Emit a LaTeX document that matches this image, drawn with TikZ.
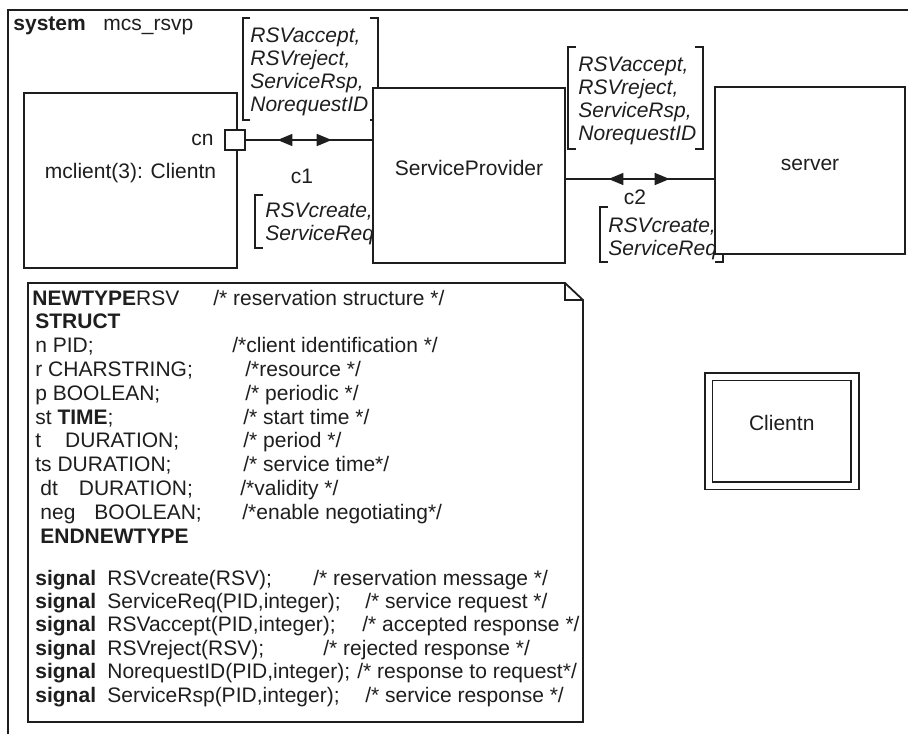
\documentclass[tikz,border=0pt]{standalone}
\usepackage{fontspec}
\setmainfont{Liberation Sans}
\usetikzlibrary{arrows.meta, fit, decorations.markings}
\definecolor{ink}{HTML}{1E1E1E}
\definecolor{paper}{HTML}{FFFFFF}

\begin{document}
\begin{tikzpicture}[x=0.5pt, y=-0.5pt,
  tri/.tip={Triangle[length=7.5pt, width=6pt]},
  every node/.style={font=\fontsize{10.5}{12}\selectfont, text=ink},
  blk/.style={draw=ink, line width=0.9pt, fill=paper, inner sep=0pt},
  brk/.style={draw=ink, line width=0.6pt},
  sig/.style={anchor=base west, inner sep=0pt, font=\fontsize{10.5}{12}\selectfont\itshape},
  code/.style={anchor=base west, inner sep=0pt},
  kw/.style={code, font=\fontsize{10.5}{12}\selectfont\bfseries},
  chan/.style 2 args={draw=ink, line width=0.8pt, decoration={markings,
      mark=at position #1 with {\arrowreversed{tri}},
      mark=at position #2 with {\arrow{tri}}}, postaction={decorate}}]

\useasboundingbox (0,0) rectangle (908,734);
\fill[paper] (0,0) rectangle (908,734);

% System frame
\draw[ink, line width=1pt] (8,734) -- (8,10) -- (908,10);
\node[kw] (syskw) at (13,30) {system};
\node[code] (sysname) at (103,30) {mcs\_rsvp};

% Signal lists of c1
\draw[brk] (250,18) -| (243,120) -- (250,120);
\draw[brk] (370,18) -| (378,120) -- (370,120);
\foreach \s [count=\i from 0] in {{RSVaccept,},{RSVreject,},{ServiceRsp,},{NorequestID}}
  \node[sig] (upa\i) at (250,42+23.3*\i) {\s};
\draw[brk] (263,195) -| (255,248) -- (263,248);
\draw[brk] (377,195) -| (385,248) -- (377,248);
\foreach \s [count=\i from 0] in {{RSVcreate,},{ServiceReq}}
  \node[sig] (lwa\i) at (265,217+23*\i) {\s};

% Signal lists of c2
\draw[brk] (576,47) -| (568,149) -- (576,149);
\draw[brk] (695,47) -| (703,149) -- (695,149);
\foreach \s [count=\i from 0] in {{RSVaccept,},{RSVreject,},{ServiceRsp,},{NorequestID}}
  \node[sig] (upb\i) at (578,71+23.3*\i) {\s};
\draw[brk] (608,207) -| (600,262) -- (608,262);
\draw[brk] (715,207) -| (723,262) -- (715,262);
\foreach \s [count=\i from 0] in {{RSVcreate,},{ServiceReq}}
  \node[sig] (lwb\i) at (608,232+23*\i) {\s};

% Blocks
\node[blk, fit={(24,93) (237,268)}] (mclient) {mclient(3): Clientn};
\node[blk, fit={(373,88) (565,263)}] (sp) {ServiceProvider};
\node[blk, fit={(715,87) (905,254)}] (srv) {server};
\node[blk, double, double distance=3pt, fit={(708.5,376.5) (855,485.5)}] (clientn) {Clientn};

% Gate and channels
\node[blk, minimum size=10pt] (cn) at (235,140) {};
\node[anchor=east, inner sep=0pt] (cnlbl) at (214,140) {cn};
\draw[chan={0.25}{0.68}] (cn.east) -- (sp.west |- cn.east);
\node (c1lbl) at (302,176) {c1};
\coordinate (c2lvl) at (0,179);
\draw[chan={0.287}{0.70}] (sp.east |- c2lvl) -- (srv.west |- c2lvl);
\node (c2lbl) at (635,197) {c2};

% Text symbol
\draw[ink, line width=0.9pt] (28,283) -- (565,283) -- (583,300) -- (583,722) -- (28,722) -- cycle;
\draw[ink, line width=0.9pt] (565,283) |- (583,300);

\node[code] (tl0) at (32,305) {\textbf{NEWTYPE}RSV};
\node[code] (tc0) at (213,305) {/* reservation structure */};
\node[kw] (tl1) at (35,305+23.8) {STRUCT};
\foreach \k/\lft/\lx/\cmt/\cx in {
    2/{n PID;}/35/{/*client identification */}/232,
    3/{r CHARSTRING;}/35/{/*resource */}/245,
    4/{p BOOLEAN;}/35/{/* periodic */}/245,
    5/{st \textbf{TIME};}/35/{/* start time */}/243,
    6/{t\hspace{12pt}DURATION;}/35/{/* period */}/243,
    7/{ts DURATION;}/35/{/* service time*/}/243,
    8/{dt\hspace{10.5pt}DURATION;}/40/{/*validity */}/240,
    9/{neg\hspace{9.5pt}BOOLEAN;}/40/{/*enable negotiating*/}/242}
{
  \node[code] (tl\k) at (\lx,305+23.8*\k) {\lft};
  \node[code] (tc\k) at (\cx,305+23.8*\k) {\cmt};
}
\node[kw] (tl10) at (40,543) {ENDNEWTYPE};

\foreach \k/\sarg/\cx/\cmt in {
    0/{RSVcreate(RSV);}/313/{/* reservation message */},
    1/{ServiceReq(PID,integer);}/365/{/* service request */},
    2/{RSVaccept(PID,integer);}/362/{/* accepted response */},
    3/{RSVreject(RSV);}/323/{/* rejected response */},
    4/{NorequestID(PID,integer);}/357/{/* response to request*/},
    5/{ServiceRsp(PID,integer);}/365/{/* service response */}}
{
  \node[kw] (sk\k) at (35,585+23.4*\k) {signal};
  \node[code] (sa\k) at (107,585+23.4*\k) {\sarg};
  \node[code] (sc\k) at (\cx,585+23.4*\k) {\cmt};
}

\end{tikzpicture}
\end{document}
